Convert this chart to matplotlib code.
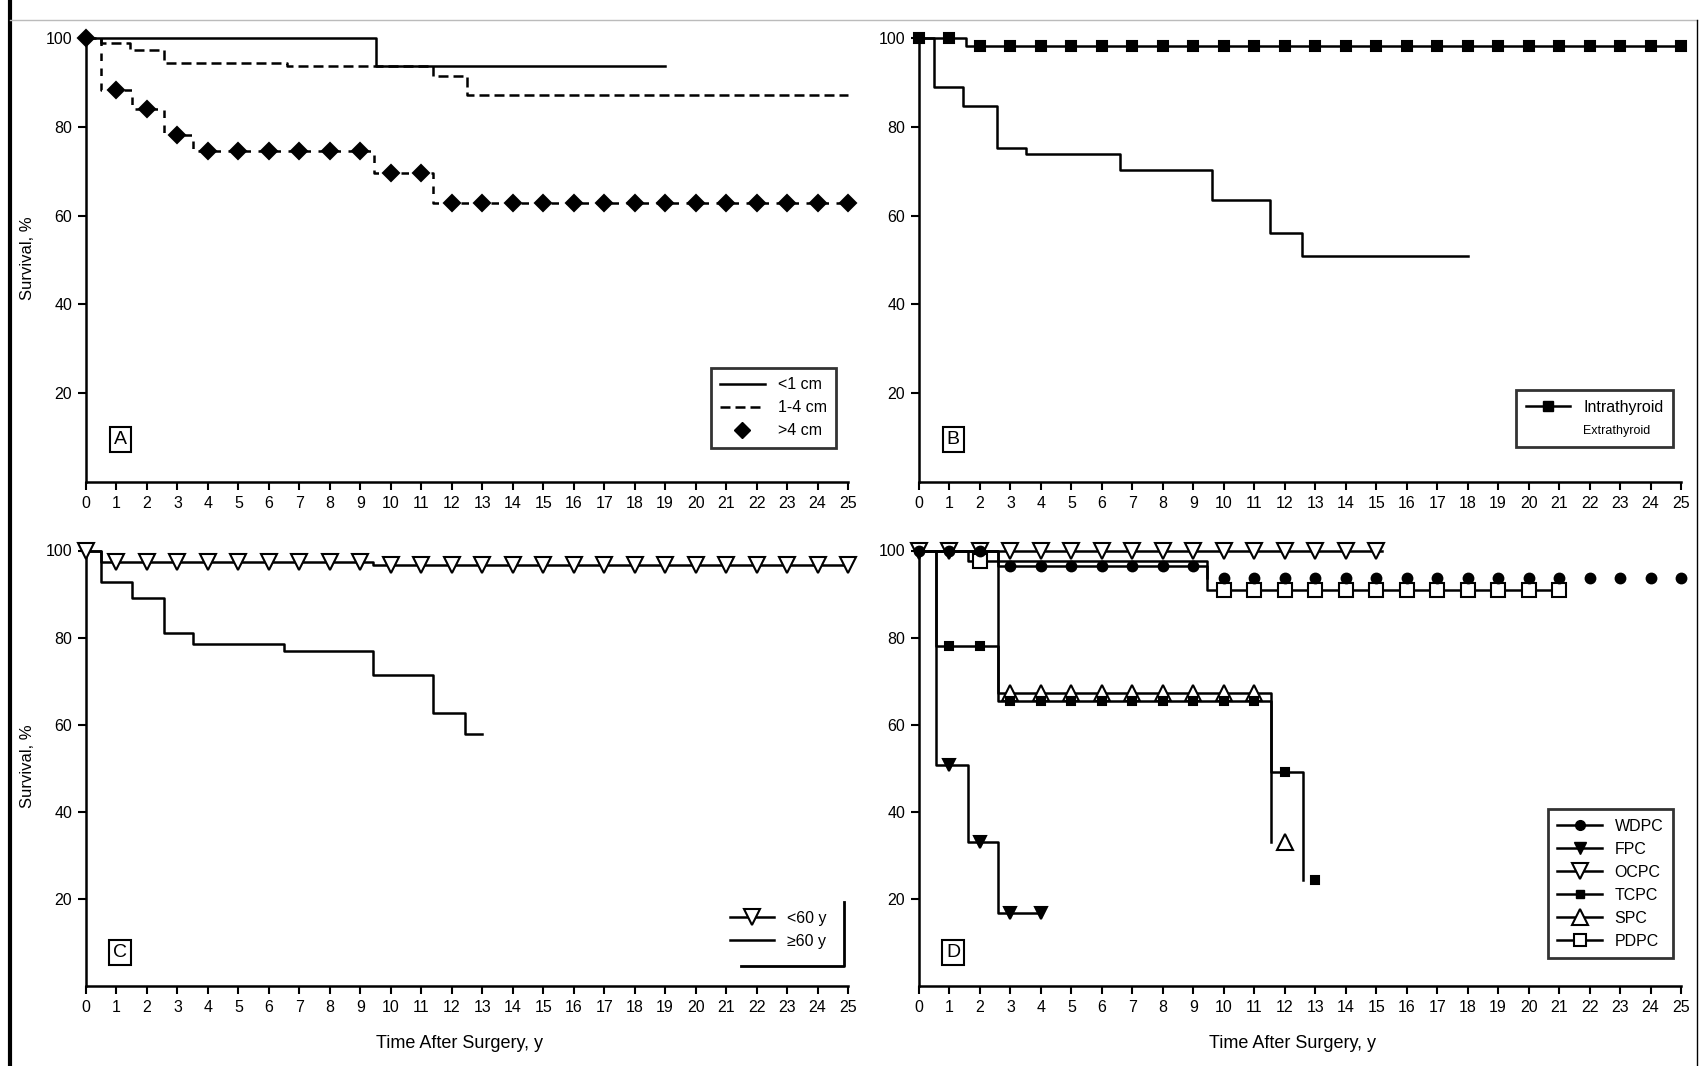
import numpy as np
import matplotlib
matplotlib.use("Agg")
import matplotlib.pyplot as plt
from matplotlib.lines import Line2D

plt.rcParams['font.family'] = ['Liberation Sans Narrow', 'Liberation Sans', 'DejaVu Sans']

years = list(range(26))
y_ticks = [20, 40, 60, 80, 100]

# Panel A - tumour size (step times in years, survival in %)
a_small_t = [0, 9.5, 19]
a_small_v = [100, 93.8, 93.8]
a_mid_t = [0, 0.5, 1.45, 2.55, 6.6, 11.4, 12.5, 25]
a_mid_v = [100, 98.8, 97.3, 94.4, 93.8, 91.4, 87.2, 87.2]
a_big_t = [0, 0.5, 1.5, 2.55, 3.5, 9.45, 11.4, 25]
a_big_v = [100, 88.3, 83.9, 78.2, 74.5, 69.7, 62.9, 62.9]
a_big_marks = list(range(0, 26))
a_labels = ["<1 cm", "1-4 cm", ">4 cm"]

# Panel B - intrathyroid vs extrathyroid
b_intra_t = [0, 1.55, 25]
b_intra_v = [100, 98.2, 98.2]
b_intra_marks = list(range(0, 26))
b_extra_t = [0, 0.5, 1.45, 2.55, 3.5, 6.6, 9.6, 11.5, 12.55, 18]
b_extra_v = [100, 88.9, 84.7, 75.2, 73.9, 70.3, 63.5, 56.0, 50.9, 50.9]
b_labels = ["Intrathyroid", "Extrathyroid"]

# Panel C - age
c_young_t = [0, 0.5, 9.4, 25]
c_young_v = [100, 97.3, 96.6, 96.6]
c_young_marks = list(range(0, 26))
c_old_t = [0, 0.5, 1.5, 2.55, 3.5, 6.5, 9.4, 11.4, 12.45, 13]
c_old_v = [100, 92.8, 89.0, 81.1, 78.6, 76.9, 71.4, 62.8, 57.9, 57.9]
c_labels = ["<60 y", "\u226560 y"]

# Panel D - histologic subtype
wdpc_t = [0, 2.6, 9.45]
wdpc_v = [100, 96.5, 93.6]
wdpc_marks = list(range(0, 26))
fpc_t = [0, 0.55, 1.6, 2.6, 4.05]
fpc_v = [100, 50.8, 33.1, 16.7, 16.7]
fpc_marks = [1, 2, 3, 4]
ocpc_t = [0, 15.2]
ocpc_v = [100, 100]
ocpc_marks = list(range(0, 16))
tcpc_t = [0, 0.55, 2.6, 11.55, 12.6]
tcpc_v = [100, 78.1, 65.4, 49.2, 24.4]
tcpc_marks = list(range(1, 14))
spc_t = [0, 2.6, 11.55]
spc_v = [100, 67.2, 33.1]
spc_marks = list(range(3, 13))
pdpc_t = [0, 1.6, 9.45, 21.2]
pdpc_v = [100, 97.5, 90.9, 90.9]
pdpc_marks = [2] + list(range(10, 22))
d_labels = ["WDPC", "FPC", "OCPC", "TCPC", "SPC", "PDPC"]


def level_at(t, v, x):
    i = np.searchsorted(t, x, side="right") - 1
    return np.asarray(v)[i]


def km(ax, t, v, marks=None, ls="-", marker=None, ms=8, fill="black", lw=1.8):
    ax.step(t, v, where="post", color="black", lw=lw, ls=ls, clip_on=False, zorder=2)
    if marks is not None:
        ax.plot(marks, level_at(t, v, marks), ls="none", marker=marker, ms=ms,
                mfc=fill, mec="black", mew=1.5, clip_on=False, zorder=3)


W, H = 1703, 1066
fig = plt.figure(figsize=(W / 100, H / 100), dpi=100)

x_left = [86, 919]
y_bottom = [482, 986]
px_x = 30.48
px_y = [4.44, 4.355]

axes = {}
for r, name_row in enumerate([["A", "B"], ["C", "D"]]):
    for c, name in enumerate(name_row):
        w = 25 * px_x
        h = 101 * px_y[r]
        ax = fig.add_axes([x_left[c] / W, 1 - y_bottom[r] / H, w / W, h / H])
        ax.set_xlim(0, 25)
        ax.set_ylim(0, 101)
        for s in ["top", "right"]:
            ax.spines[s].set_visible(False)
        for s in ["left", "bottom"]:
            ax.spines[s].set_linewidth(1.8)
        ax.set_xticks(years)
        ax.set_yticks(y_ticks)
        ax.tick_params(axis="both", direction="out", length=6, width=1.5,
                       labelsize=11.5, pad=4)
        ax.text(0.045, 0.095 if r == 0 else 0.076, name, transform=ax.transAxes,
                ha="center", va="center", fontsize=14,
                bbox=dict(boxstyle="square,pad=0.2", fc="white", ec="black", lw=1.5))
        if c == 0:
            ax.set_ylabel("Survival, %", fontsize=12)
            ax.yaxis.set_label_coords(-0.067, 0.5)
        if r == 1:
            ax.set_xlabel("Time After Surgery, y", fontsize=13)
            ax.xaxis.set_label_coords(0.49, -0.112)
        axes[name] = ax

leg_kw = dict(fontsize=11.5, frameon=True, fancybox=False, edgecolor="black",
              handlelength=2.8, borderpad=0.6, labelspacing=0.5)

# A
ax = axes["A"]
km(ax, a_small_t, a_small_v)
km(ax, a_mid_t, a_mid_v, ls=(0, (4, 2)))
km(ax, a_big_t, a_big_v, a_big_marks, ls=(0, (3, 3)), marker="D", ms=8)
h = [Line2D([], [], color="black", lw=1.8),
     Line2D([], [], color="black", lw=1.8, ls=(0, (4, 2))),
     Line2D([], [], ls="none", marker="D", ms=8, color="black")]
leg = ax.legend(h, a_labels, loc="lower right", bbox_to_anchor=(0.995, 0.058), **leg_kw)
leg.get_frame().set_linewidth(2)

# B
ax = axes["B"]
km(ax, b_intra_t, b_intra_v, b_intra_marks, marker="s", ms=7)
km(ax, b_extra_t, b_extra_v)
h = [Line2D([], [], color="black", lw=1.8, marker="s", ms=7),
     Line2D([], [], ls="none")]
leg = ax.legend(h, b_labels, loc="lower right", bbox_to_anchor=(1.0, 0.061), **leg_kw)
leg.get_frame().set_linewidth(2)
leg.get_texts()[1].set_fontsize(9)

# C
ax = axes["C"]
km(ax, c_young_t, c_young_v, c_young_marks, marker="v", ms=12, fill="white")
km(ax, c_old_t, c_old_v)
h = [Line2D([], [], color="black", lw=1.8, marker="v", ms=12, mfc="white", mew=1.5),
     Line2D([], [], color="black", lw=1.8)]
leg = ax.legend(h, c_labels, loc="lower right", bbox_to_anchor=(0.995, 0.045), **leg_kw)
leg.get_frame().set_visible(False)
ax.plot([0.995, 0.995, 0.86], [0.19, 0.045, 0.045], color="black", lw=2,
        transform=ax.transAxes, clip_on=False)

# D
ax = axes["D"]
km(ax, ocpc_t, ocpc_v, ocpc_marks, marker="v", ms=12, fill="white")
km(ax, pdpc_t, pdpc_v, pdpc_marks, marker="s", ms=10, fill="white")
km(ax, spc_t, spc_v, spc_marks, marker="^", ms=12, fill="white")
km(ax, wdpc_t, wdpc_v, wdpc_marks, marker="o", ms=7)
km(ax, fpc_t, fpc_v, fpc_marks, marker="v", ms=9)
km(ax, tcpc_t, tcpc_v, tcpc_marks, marker="s", ms=6)
h = [Line2D([], [], color="black", lw=1.8, marker="o", ms=7),
     Line2D([], [], color="black", lw=1.8, marker="v", ms=9),
     Line2D([], [], color="black", lw=1.8, marker="v", ms=11, mfc="white", mew=1.5),
     Line2D([], [], color="black", lw=1.8, marker="s", ms=6),
     Line2D([], [], color="black", lw=1.8, marker="^", ms=11, mfc="white", mew=1.5),
     Line2D([], [], color="black", lw=1.8, marker="s", ms=9, mfc="white", mew=1.5)]
leg = ax.legend(h, d_labels, loc="lower right", bbox_to_anchor=(1.0, 0.045), **leg_kw)
leg.get_frame().set_linewidth(2)

# outer frame of the figure
fig.add_artist(Line2D([10 / W, 10 / W], [0, 1], color="black", lw=3))
fig.add_artist(Line2D([10 / W, 1697 / W], [1 - 20 / H, 1 - 20 / H], color="#bbbbbb", lw=1))
fig.add_artist(Line2D([1697 / W, 1697 / W], [0, 1 - 20 / H], color="black", lw=1))

fig.savefig("out.png", dpi=100)
